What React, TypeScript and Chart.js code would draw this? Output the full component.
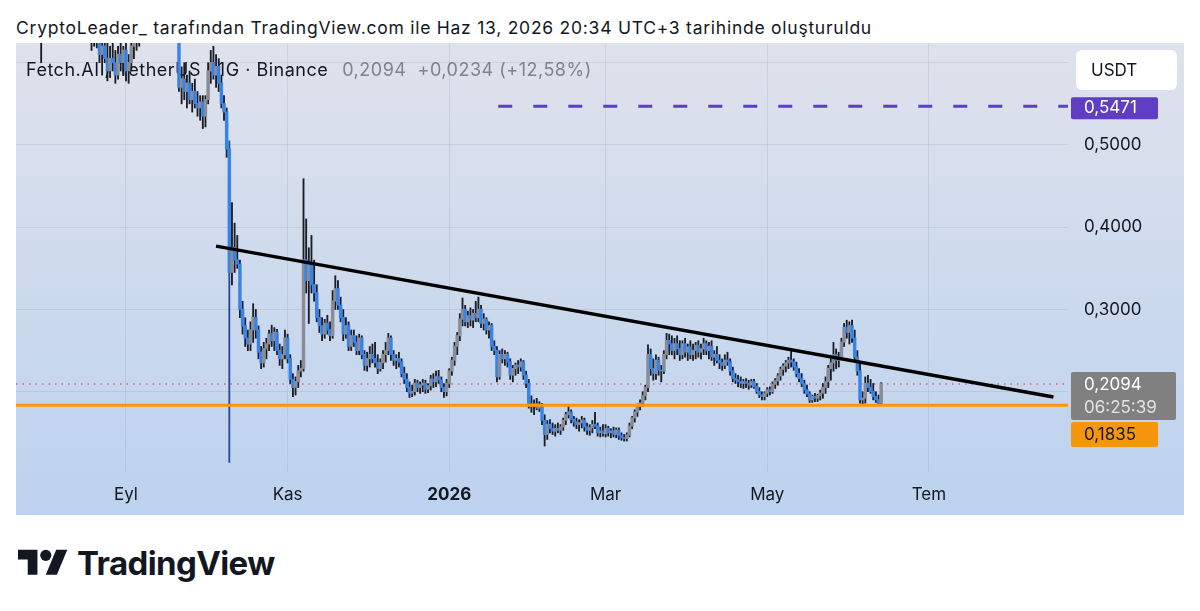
import React, { useEffect, useRef } from "react";
import { Chart, registerables } from "chart.js";

Chart.register(...registerables);

const FONT = "Inter, 'Noto Sans', sans-serif";

// Daily candles, day index relative to 2025-09-01 (Eyl). First bar = 2025-07-22.
const firstDayIndex = -41;
const firstOpen = 0.8;

const closes = [
  // Jul 22-31
  0.79, 0.77, 0.75, 0.76, 0.74, 0.71, 0.72, 0.69, 0.66, 0.63,
  // Aug
  0.65, 0.67, 0.69, 0.68, 0.71, 0.73, 0.75, 0.74, 0.72, 0.73, 0.72, 0.69, 0.67, 0.68, 0.66, 0.65,
  0.66, 0.64, 0.63, 0.65, 0.63, 0.61, 0.62, 0.605, 0.59, 0.605, 0.6, 0.585, 0.61, 0.6, 0.615,
  // Sep
  0.59, 0.6, 0.62, 0.635, 0.625, 0.65, 0.67, 0.69, 0.7, 0.71, 0.73, 0.75, 0.74, 0.72, 0.7,
  0.68, 0.69, 0.67, 0.66, 0.64, 0.57, 0.58, 0.565, 0.575, 0.555, 0.565, 0.55, 0.545, 0.552, 0.535,
  // Oct
  0.555, 0.59, 0.6, 0.585, 0.595, 0.575, 0.55, 0.54, 0.495, 0.345, 0.375, 0.36, 0.355, 0.3, 0.28, 0.265,
  0.258, 0.275, 0.29, 0.275, 0.248, 0.235, 0.252, 0.258, 0.27, 0.262, 0.272, 0.25, 0.24, 0.245, 0.265,
  // Nov
  0.24, 0.215, 0.205, 0.212, 0.225, 0.228, 0.36, 0.335, 0.355, 0.33, 0.32, 0.29, 0.28, 0.27, 0.283,
  0.275, 0.268, 0.31, 0.325, 0.305, 0.29, 0.27, 0.28, 0.255, 0.268, 0.26, 0.25, 0.265, 0.245, 0.232,
  // Dec
  0.24, 0.245, 0.24, 0.235, 0.228, 0.235, 0.245, 0.25, 0.265, 0.245, 0.238, 0.24, 0.236, 0.222, 0.215, 0.205,
  0.198, 0.2, 0.21, 0.205, 0.208, 0.21, 0.203, 0.207, 0.215, 0.212, 0.218, 0.214, 0.205, 0.2, 0.21,
  // Jan
  0.225, 0.238, 0.255, 0.268, 0.288, 0.3, 0.285, 0.292, 0.287, 0.295, 0.29, 0.3, 0.283, 0.288, 0.275, 0.28,
  0.255, 0.25, 0.218, 0.245, 0.24, 0.245, 0.236, 0.22, 0.228, 0.232, 0.23, 0.236, 0.22, 0.21, 0.185,
  // Feb
  0.182, 0.185, 0.18, 0.184, 0.165, 0.148, 0.16, 0.155, 0.152, 0.155, 0.153, 0.157, 0.165, 0.172,
  0.175, 0.166, 0.163, 0.16, 0.162, 0.165, 0.157, 0.153, 0.156, 0.16, 0.158, 0.15, 0.152, 0.149,
  // Mar
  0.155, 0.15, 0.152, 0.148, 0.153, 0.146, 0.144, 0.143, 0.147, 0.158, 0.168, 0.175, 0.182, 0.186, 0.195, 0.205,
  0.245, 0.228, 0.222, 0.238, 0.226, 0.225, 0.245, 0.262, 0.258, 0.25, 0.258, 0.252, 0.245, 0.258, 0.248,
  // Apr
  0.254, 0.245, 0.25, 0.256, 0.248, 0.252, 0.258, 0.25, 0.255, 0.242, 0.245, 0.238, 0.235, 0.232, 0.238,
  0.236, 0.225, 0.216, 0.214, 0.212, 0.21, 0.212, 0.21, 0.208, 0.212, 0.206, 0.2, 0.196, 0.194, 0.198,
  // May
  0.202, 0.2, 0.209, 0.213, 0.219, 0.227, 0.231, 0.235, 0.238, 0.236, 0.23, 0.222, 0.216, 0.21, 0.202, 0.197,
  0.19, 0.194, 0.192, 0.195, 0.198, 0.205, 0.212, 0.228, 0.235, 0.245, 0.238, 0.242, 0.26, 0.278, 0.272,
  // Jun 1-13
  0.28, 0.265, 0.242, 0.225, 0.19, 0.192, 0.21, 0.205, 0.2, 0.194, 0.19, 0.186, 0.2094,
];

const highs = [
  0.82, 0.81, 0.79, 0.77, 0.78, 0.76, 0.73, 0.74, 0.71, 0.68,
  0.66, 0.68, 0.7, 0.71, 0.72, 0.74, 0.77, 0.78, 0.76, 0.75, 0.76, 0.73, 0.71, 0.69, 0.7, 0.68,
  0.67, 0.67, 0.65, 0.66, 0.67, 0.64, 0.63, 0.64, 0.625, 0.62, 0.63, 0.615, 0.62, 0.63, 0.62,
  0.625, 0.61, 0.63, 0.645, 0.65, 0.66, 0.68, 0.7, 0.71, 0.72, 0.74, 0.76, 0.77, 0.76, 0.74,
  0.72, 0.7, 0.71, 0.69, 0.67, 0.645, 0.595, 0.6, 0.585, 0.59, 0.575, 0.58, 0.565, 0.56, 0.56,
  0.56, 0.6, 0.615, 0.62, 0.61, 0.605, 0.585, 0.56, 0.545, 0.505, 0.43, 0.405, 0.39, 0.36, 0.31, 0.29,
  0.275, 0.285, 0.307, 0.3, 0.28, 0.255, 0.26, 0.265, 0.275, 0.281, 0.278, 0.276, 0.258, 0.255, 0.275,
  0.27, 0.245, 0.222, 0.218, 0.232, 0.238, 0.459, 0.41, 0.375, 0.39, 0.36, 0.33, 0.3, 0.29, 0.288,
  0.293, 0.285, 0.323, 0.341, 0.335, 0.315, 0.3, 0.29, 0.285, 0.275, 0.275, 0.268, 0.27, 0.268, 0.25,
  0.248, 0.255, 0.258, 0.26, 0.245, 0.24, 0.25, 0.26, 0.271, 0.268, 0.25, 0.245, 0.248, 0.24, 0.23, 0.222,
  0.212, 0.208, 0.215, 0.214, 0.212, 0.215, 0.214, 0.21, 0.22, 0.222, 0.225, 0.226, 0.218, 0.21, 0.215,
  0.228, 0.242, 0.26, 0.272, 0.295, 0.314, 0.305, 0.298, 0.302, 0.3, 0.31, 0.315, 0.305, 0.295, 0.29, 0.285,
  0.283, 0.262, 0.255, 0.25, 0.252, 0.25, 0.248, 0.24, 0.232, 0.235, 0.238, 0.24, 0.238, 0.225, 0.215,
  0.195, 0.19, 0.192, 0.188, 0.186, 0.172, 0.165, 0.166, 0.162, 0.16, 0.162, 0.16, 0.168, 0.175,
  0.182, 0.178, 0.17, 0.168, 0.166, 0.17, 0.168, 0.162, 0.16, 0.165, 0.175, 0.162, 0.157, 0.16,
  0.16, 0.158, 0.155, 0.157, 0.156, 0.156, 0.15, 0.148, 0.15, 0.162, 0.17, 0.178, 0.185, 0.19, 0.2, 0.208,
  0.257, 0.252, 0.24, 0.245, 0.242, 0.232, 0.25, 0.271, 0.27, 0.268, 0.265, 0.268, 0.262, 0.262, 0.265,
  0.258, 0.262, 0.258, 0.26, 0.262, 0.258, 0.265, 0.262, 0.26, 0.262, 0.25, 0.255, 0.245, 0.24, 0.245,
  0.248, 0.24, 0.23, 0.222, 0.22, 0.218, 0.215, 0.216, 0.214, 0.215, 0.215, 0.21, 0.205, 0.2, 0.2,
  0.205, 0.206, 0.212, 0.216, 0.222, 0.23, 0.234, 0.238, 0.242, 0.25, 0.24, 0.236, 0.228, 0.222, 0.214, 0.208,
  0.2, 0.196, 0.198, 0.197, 0.202, 0.21, 0.218, 0.232, 0.24, 0.26, 0.252, 0.248, 0.265, 0.283, 0.287,
  0.285, 0.287, 0.275, 0.25, 0.235, 0.2, 0.218, 0.22, 0.215, 0.21, 0.2, 0.196, 0.211,
];

const lows = [
  0.77, 0.76, 0.74, 0.72, 0.73, 0.7, 0.69, 0.68, 0.65, 0.6,
  0.63, 0.64, 0.66, 0.67, 0.67, 0.7, 0.72, 0.73, 0.71, 0.7, 0.71, 0.68, 0.66, 0.65, 0.66, 0.64,
  0.63, 0.63, 0.615, 0.62, 0.618, 0.6, 0.585, 0.6, 0.578, 0.582, 0.59, 0.575, 0.58, 0.59, 0.585,
  0.578, 0.575, 0.59, 0.605, 0.615, 0.62, 0.64, 0.66, 0.67, 0.68, 0.7, 0.72, 0.73, 0.71, 0.69,
  0.67, 0.66, 0.66, 0.645, 0.63, 0.565, 0.55, 0.555, 0.545, 0.55, 0.54, 0.545, 0.535, 0.53, 0.52,
  0.522, 0.55, 0.575, 0.58, 0.57, 0.565, 0.545, 0.53, 0.485, 0.114, 0.33, 0.345, 0.35, 0.29, 0.27, 0.255,
  0.25, 0.25, 0.26, 0.265, 0.24, 0.228, 0.23, 0.24, 0.25, 0.255, 0.25, 0.245, 0.232, 0.228, 0.24,
  0.235, 0.21, 0.194, 0.196, 0.205, 0.218, 0.225, 0.32, 0.283, 0.32, 0.31, 0.285, 0.272, 0.262, 0.265,
  0.27, 0.262, 0.265, 0.3, 0.3, 0.285, 0.262, 0.265, 0.25, 0.25, 0.255, 0.245, 0.245, 0.24, 0.226,
  0.225, 0.23, 0.235, 0.23, 0.222, 0.225, 0.228, 0.236, 0.245, 0.238, 0.232, 0.228, 0.23, 0.218, 0.21, 0.2,
  0.193, 0.194, 0.196, 0.2, 0.198, 0.2, 0.198, 0.199, 0.202, 0.205, 0.206, 0.21, 0.2, 0.193, 0.195,
  0.205, 0.22, 0.232, 0.245, 0.262, 0.28, 0.28, 0.278, 0.28, 0.278, 0.285, 0.285, 0.278, 0.275, 0.27, 0.265,
  0.25, 0.245, 0.212, 0.215, 0.235, 0.232, 0.23, 0.215, 0.212, 0.22, 0.222, 0.225, 0.215, 0.205, 0.18,
  0.175, 0.172, 0.178, 0.176, 0.16, 0.134, 0.142, 0.15, 0.148, 0.146, 0.15, 0.148, 0.153, 0.16,
  0.168, 0.162, 0.158, 0.155, 0.152, 0.156, 0.152, 0.148, 0.147, 0.15, 0.155, 0.146, 0.145, 0.146,
  0.145, 0.146, 0.144, 0.145, 0.144, 0.142, 0.141, 0.14, 0.14, 0.145, 0.155, 0.163, 0.17, 0.178, 0.182, 0.19,
  0.2, 0.22, 0.214, 0.215, 0.22, 0.212, 0.222, 0.24, 0.245, 0.245, 0.24, 0.245, 0.238, 0.24, 0.242,
  0.238, 0.24, 0.238, 0.24, 0.242, 0.24, 0.245, 0.245, 0.24, 0.238, 0.232, 0.235, 0.228, 0.226, 0.228,
  0.232, 0.22, 0.212, 0.21, 0.206, 0.205, 0.204, 0.205, 0.203, 0.205, 0.204, 0.198, 0.193, 0.19, 0.19,
  0.194, 0.196, 0.198, 0.204, 0.208, 0.214, 0.22, 0.224, 0.228, 0.23, 0.226, 0.218, 0.212, 0.206, 0.198, 0.194,
  0.187, 0.187, 0.188, 0.188, 0.19, 0.192, 0.198, 0.205, 0.214, 0.225, 0.228, 0.23, 0.24, 0.255, 0.265,
  0.258, 0.26, 0.238, 0.22, 0.186, 0.185, 0.186, 0.2, 0.198, 0.19, 0.187, 0.185, 0.184,
];

// Axis ticks
const monthTicks = [0, 61, 122, 181, 242, 303];
const monthLabels = ["Eyl", "Kas", "2026", "Mar", "May", "Tem"];
const priceTicks = [0.2, 0.3, 0.4, 0.5, 0.6];
const priceLabels = ["", "0,3000", "0,4000", "0,5000", ""];
const xRange = [-41.5, 355.5];
const yRange = [0.1024, 0.624];

// Drawings
const trendDays = [34, 350];
const trendPrices = [0.377, 0.1936];
const resistancePrice = 0.5471;
const resistanceStartDay = 140.5;
const supportPrice = 0.1835;
const lastPrice = 0.2094;
const countdown = "06:25:39";
const changeText = "+0,0234 (+12,58%)";
const symbolText = "Fetch.AI / TetherUS · 1G · Binance";

const fmt = (v: number) => v.toFixed(4).replace(".", ",");

export default function App() {
  const ref = useRef<HTMLCanvasElement>(null);

  useEffect(() => {
    if (!ref.current) return;
    const candles = closes.map((c, i) => {
      const o = i === 0 ? firstOpen : closes[i - 1];
      const h = Math.max(highs[i], o, c);
      const l = Math.min(lows[i], o, c);
      return { x: firstDayIndex + i, o, h, l, c };
    });

    const decor = {
      id: "decor",
      beforeDraw(chart: any) {
        const { ctx, width, height } = chart;
        const g = ctx.createLinearGradient(0, 0, 0, height);
        g.addColorStop(0, "#dfe2ec");
        g.addColorStop(1, "#bcd2ee");
        ctx.save();
        ctx.fillStyle = g;
        ctx.fillRect(0, 0, width, height);
        ctx.restore();
      },
      beforeDatasetsDraw(chart: any) {
        const { ctx, chartArea } = chart;
        ctx.save();
        ctx.font = `18px ${FONT}`;
        try {
          (ctx as any).letterSpacing = "0.5px";
        } catch (e) {}
        ctx.textBaseline = "middle";
        ctx.fillStyle = "#131722";
        const x0 = chartArea.left + 10;
        const y0 = chartArea.top + 28;
        ctx.fillText(symbolText, x0, y0);
        const w = ctx.measureText(symbolText).width;
        ctx.fillStyle = "#80838d";
        ctx.fillText(`${fmt(lastPrice)}  ${changeText}`, x0 + w + 14, y0);
        ctx.restore();
      },
      afterDraw(chart: any) {
        const { ctx, chartArea } = chart;
        const ys = chart.scales.y;
        const ax = chartArea.right;
        const box = (x: number, t: number, w: number, h: number, col: string, r = 2) => {
          ctx.fillStyle = col;
          ctx.beginPath();
          ctx.roundRect(x, t, w, h, r);
          ctx.fill();
        };
        ctx.save();
        ctx.font = `17px ${FONT}`;
        ctx.textBaseline = "middle";
        ctx.textAlign = "left";
        // USDT
        box(ax + 8, 7, 101, 40, "#ffffff", 6);
        ctx.fillStyle = "#131722";
        ctx.fillText("USDT", ax + 23, 28);
        // resistance
        const py = ys.getPixelForValue(resistancePrice);
        box(ax + 3, py - 9, 87, 22, "#5f3dc4");
        ctx.fillStyle = "#ffffff";
        ctx.fillText(fmt(resistancePrice), ax + 16, py + 2);
        // last price
        const ly = ys.getPixelForValue(lastPrice);
        const lt = ly - 12;
        box(ax + 3, lt, 105, 48, "#808080");
        ctx.fillStyle = "#ffffff";
        ctx.fillText(fmt(lastPrice), ax + 16, lt + 13);
        ctx.fillStyle = "#e2e2e2";
        ctx.fillText(countdown, ax + 16, lt + 36);
        // support
        const sy = ys.getPixelForValue(supportPrice);
        const st = Math.max(lt + 50, sy - 12);
        box(ax + 3, st, 87, 25, "#f7960c");
        ctx.fillStyle = "#131722";
        ctx.fillText(fmt(supportPrice), ax + 16, st + 13);
        ctx.restore();
      },
    };

    const chart = new Chart(ref.current, {
      type: "bar",
      data: {
        datasets: [
          {
            type: "line",
            data: [
              { x: xRange[0], y: lastPrice },
              { x: xRange[1], y: lastPrice },
            ],
            borderColor: "rgba(236,64,96,0.8)",
            borderWidth: 1.3,
            borderDash: [1.5, 5],
            pointRadius: 0,
            order: 10,
          } as any,
          {
            type: "bar",
            data: candles.map((k) => ({ x: k.x, y: [k.l, k.h] })),
            backgroundColor: candles.map((k) =>
              k.c < k.o && k.h - k.l > 0.2 ? "#2a4a9e" : "#1a1d26"
            ),
            barThickness: 1.2,
            grouped: false,
            order: 6,
          },
          {
            type: "bar",
            data: candles.map((k) => ({
              x: k.x,
              y: [Math.min(k.o, k.c), Math.max(k.o, k.c) + 0.0005],
            })),
            backgroundColor: candles.map((k) => (k.c >= k.o ? "#8a8d95" : "#3a83e6")),
            barThickness: 2.8,
            grouped: false,
            order: 5,
          },
          {
            type: "line",
            data: [
              { x: xRange[0], y: supportPrice },
              { x: xRange[1], y: supportPrice },
            ],
            borderColor: "#ff9800",
            borderWidth: 3,
            pointRadius: 0,
            order: 3,
          } as any,
          {
            type: "line",
            data: [
              { x: resistanceStartDay, y: resistancePrice },
              { x: xRange[1], y: resistancePrice },
            ],
            borderColor: "#5f3dc4",
            borderWidth: 3,
            borderDash: [14, 21],
            pointRadius: 0,
            order: 2,
          } as any,
          {
            type: "line",
            data: trendDays.map((d, i) => ({ x: d, y: trendPrices[i] })),
            borderColor: "#000000",
            borderWidth: 3.5,
            pointRadius: 0,
            order: 1,
          } as any,
        ],
      },
      options: {
        responsive: false,
        animation: false,
        layout: { padding: 0 },
        plugins: { legend: { display: false }, tooltip: { enabled: false } },
        scales: {
          x: {
            type: "linear",
            min: xRange[0],
            max: xRange[1],
            offset: false,
            border: { display: false },
            grid: { color: "rgba(140,150,180,0.22)", drawTicks: false, offset: false },
            afterBuildTicks: (s: any) => {
              s.ticks = monthTicks.map((v) => ({ value: v }));
            },
            afterFit: (s: any) => {
              s.height = 43;
              s.paddingLeft = 0;
              s.paddingRight = 0;
            },
            ticks: {
              autoSkip: false,
              maxRotation: 0,
              padding: 13,
              color: "#131722",
              font: (c: any) => ({
                family: FONT,
                size: 17,
                weight: c.tick && c.tick.value === 122 ? "bold" : "normal",
              }),
              callback: (v: any) => {
                const i = monthTicks.indexOf(Number(v));
                return i >= 0 ? monthLabels[i] : "";
              },
            },
          },
          y: {
            type: "linear",
            position: "right",
            min: yRange[0],
            max: yRange[1],
            border: { display: false },
            grid: { color: "rgba(140,150,180,0.22)", drawTicks: false },
            afterBuildTicks: (s: any) => {
              s.ticks = priceTicks.map((v) => ({ value: v }));
            },
            afterFit: (s: any) => {
              s.width = 116;
              s.paddingTop = 0;
              s.paddingBottom = 0;
            },
            ticks: {
              padding: 16,
              color: "#131722",
              font: { family: FONT, size: 17 },
              callback: (v: any) => {
                const i = priceTicks.findIndex((p) => Math.abs(p - Number(v)) < 1e-6);
                return i >= 0 ? priceLabels[i] : "";
              },
            },
          },
        },
      } as any,
      plugins: [decor],
    });
    return () => chart.destroy();
  }, []);

  return (
    <div
      style={{
        position: "absolute",
        left: 0,
        top: 0,
        width: 1200,
        height: 611,
        background: "#ffffff",
        fontFamily: FONT,
        overflow: "hidden",
      }}
    >
      <div
        style={{
          position: "absolute",
          left: 16,
          top: 17,
          fontSize: 17.5,
          letterSpacing: 0.75,
          color: "#131722",
          whiteSpace: "nowrap",
          lineHeight: "22px",
        }}
      >
        CryptoLeader_ tarafından TradingView.com ile Haz 13, 2026 20:34 UTC+3 tarihinde oluşturuldu
      </div>
      <div style={{ position: "absolute", left: 16, top: 43, width: 1168, height: 472 }}>
        <canvas ref={ref} width={1168} height={472} style={{ width: 1168, height: 472 }} />
      </div>
      <div
        style={{
          position: "absolute",
          left: 18,
          top: 543,
          display: "flex",
          alignItems: "center",
        }}
      >
        <svg width="50" height="38" viewBox="0 0 36 27">
          <path d="M14 22H7V11H0V4h14v18z" fill="#131722" />
          <circle cx="20" cy="8" r="4" fill="#131722" />
          <path d="M28 22h-8l7.5-18h8L28 22z" fill="#131722" />
        </svg>
        <span
          style={{
            fontWeight: 700,
            fontSize: 33,
            marginLeft: 9,
            color: "#131722",
            letterSpacing: -0.6,
          }}
        >
          TradingView
        </span>
      </div>
    </div>
  );
}
